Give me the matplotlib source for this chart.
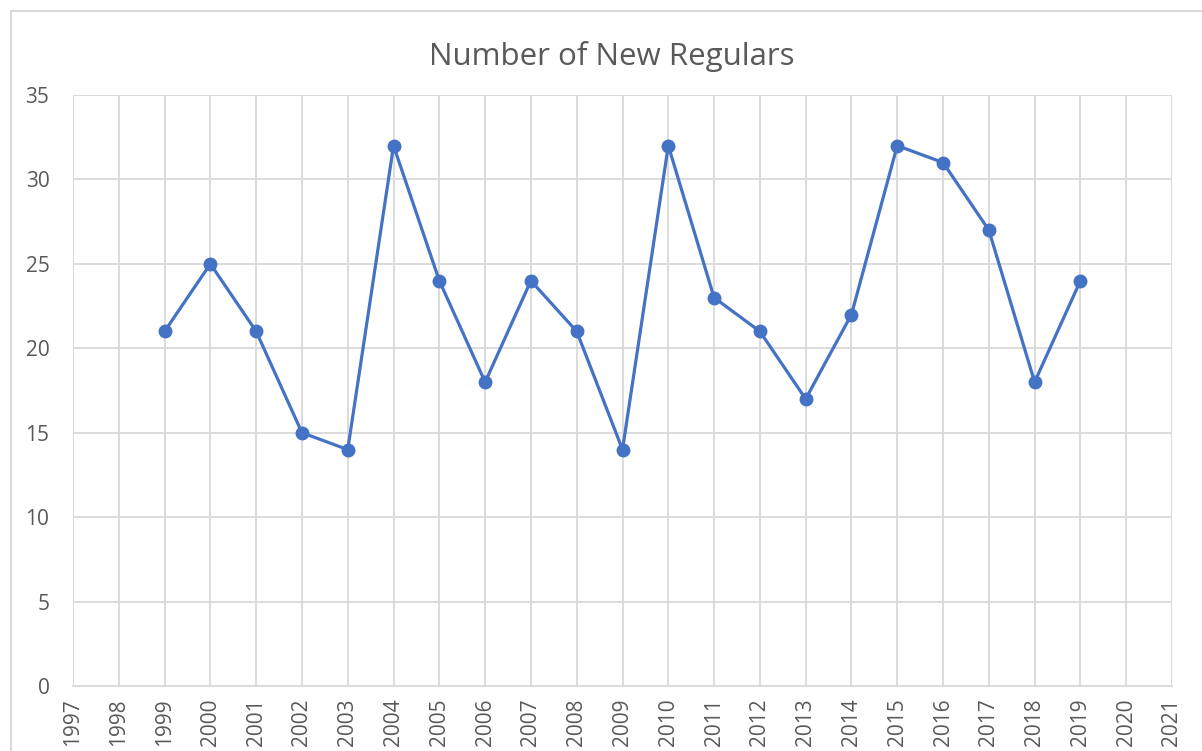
import matplotlib.pyplot as plt
from matplotlib.patches import Rectangle

plt.rcParams['font.family'] = ['Open Sans', 'DejaVu Sans']

# data
years = list(range(1999, 2020))
new_regulars = [21, 25, 21, 15, 14, 32, 24, 18, 24, 21, 14,
                32, 23, 21, 17, 22, 32, 31, 27, 18, 24]
x_ticks = list(range(1997, 2022))
y_ticks = [0, 5, 10, 15, 20, 25, 30, 35]

text_color = '#595959'
grid_color = '#d9d9d9'
line_color = '#4472c4'

fig = plt.figure(figsize=(12.02, 7.51), dpi=100)
W, H = 1202, 751

# chart border (cut off at right and bottom like the screenshot)
fig.patches.append(Rectangle((11 / W, -0.1), 1.2, 1 - 11 / H + 0.1,
                             transform=fig.transFigure, fill=False,
                             edgecolor=grid_color, linewidth=1.5))

ax = fig.add_axes([73 / W, 1 - 686 / H, (1172 - 73) / W, (686 - 95) / H])
ax.plot(years, new_regulars, color=line_color, linewidth=2.3,
        marker='o', markersize=9, zorder=3)

ax.set_xlim(1997, 2021)
ax.set_ylim(0, 35)
ax.set_xticks(x_ticks)
ax.set_yticks(y_ticks)
ax.grid(True, color=grid_color, linewidth=1.3)
for s in ['top', 'right', 'left']:
    ax.spines[s].set_visible(False)
ax.spines['bottom'].set_color(grid_color)
ax.spines['bottom'].set_linewidth(1.3)
ax.tick_params(length=0, colors=text_color, labelsize=15)
ax.tick_params(axis='y', pad=17)
ax.tick_params(axis='x', pad=9)
plt.setp(ax.get_xticklabels(), rotation=90)

fig.text(612 / W, 1 - 56 / H, 'Number of New Regulars', ha='center', va='center',
         fontsize=22.5, color=text_color)

fig.savefig('out.png', dpi=100)
